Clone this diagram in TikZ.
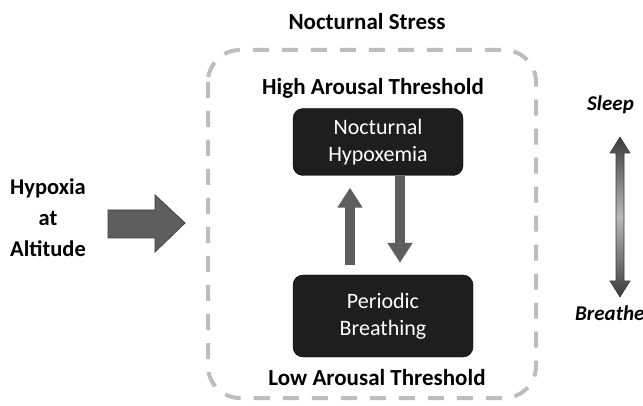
\documentclass[tikz,border=0pt]{standalone}
\usepackage{fontspec}
\setmainfont{Carlito}
\usetikzlibrary{arrows.meta}
\definecolor{dashgray}{HTML}{BDBDBD}
\definecolor{boxblack}{HTML}{1E1E1E}
\definecolor{arrgray}{HTML}{5E5E5E}
\definecolor{arrdark}{HTML}{3C3C3C}
\begin{document}
\begin{tikzpicture}[x=1pt,y=-1pt,
  lbl/.style={font=\fontsize{23}{27}\selectfont\bfseries, text=black, inner sep=0pt},
  side/.style={font=\fontsize{21}{25}\selectfont\bfseries\itshape, text=black, inner sep=0pt},
  blk/.style={fill=boxblack, draw=black, rounded corners=10pt, text=white,
              font=\fontsize{22}{27}\selectfont, align=center, inner sep=0pt},
  flow/.style={draw=arrgray, line width=10pt, -{Triangle[width=24pt,length=20pt]}}]
\useasboundingbox (0,0) rectangle (643,406);
\fill[white] (0,0) rectangle (643,406);
% dashed frame
\draw[dashgray, line width=4pt, dash pattern=on 16pt off 13pt, rounded corners=32pt]
  (208,50) rectangle (536,398);
% labels
\node[lbl] (title) at (367,22) {Nocturnal Stress};
\node[lbl] (high) at (373,88) {High Arousal Threshold};
\node[lbl] (low) at (377,378) {Low Arousal Threshold};
% boxes
\node[blk, minimum width=170pt, minimum height=67pt] (nh) at (378,142) {Nocturnal\\Hypoxemia};
\node[blk, minimum width=180pt, minimum height=82pt] (pb) at (383,316) {Periodic\\Breathing};
% cycle arrows
\coordinate (ua) at (350,0);
\coordinate (da) at (400,0);
\draw[flow, shorten <=10pt, shorten >=12pt] (pb.north -| ua) -- (nh.south -| ua);
\draw[flow, shorten >=12pt] (nh.south -| da) -- (pb.north -| da);
% left input
\node[lbl, align=center, font=\fontsize{22.5}{31}\selectfont\bfseries] (hyp) at (48,218) {Hypoxia\\at\\Altitude};
\filldraw[fill=arrgray, draw=arrdark, line width=0.8pt]
  (108,210) -- (155,210) -- (155,195) -- (185,223) -- (155,252) -- (155,238) -- (108,238) -- cycle;
% right scale
\node[side, anchor=west] (sleep) at (587,105) {Sleep};
\node[side, anchor=west] (breathe) at (575,313) {Breathe};
\shade[top color=arrdark, bottom color=arrdark, middle color=gray!55, draw=arrdark, line width=0.6pt]
  (620,137) -- (630,153) -- (624,153) -- (624,281) -- (630,281) -- (620,297)
  -- (610,281) -- (616,281) -- (616,153) -- (610,153) -- cycle;
\end{tikzpicture}
\end{document}
